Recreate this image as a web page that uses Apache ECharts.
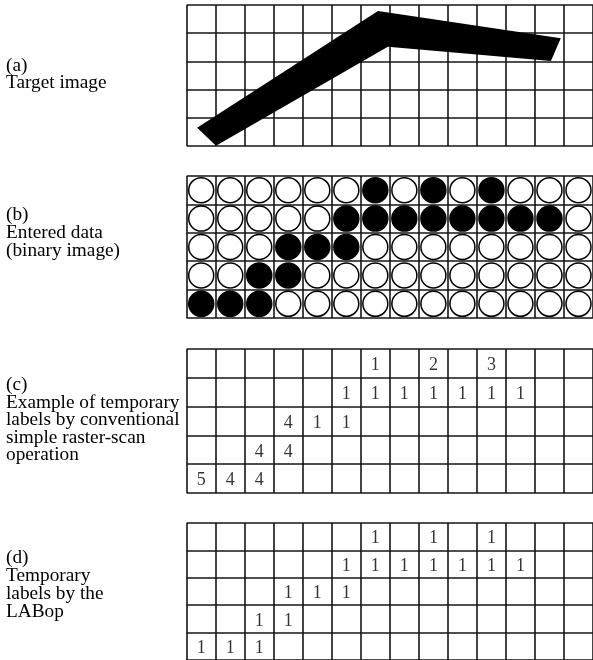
<!DOCTYPE html>
<html>
<head>
<meta charset="utf-8">
<script src="https://cdn.jsdelivr.net/npm/echarts@6/dist/echarts.min.js"></script>
<style>
html,body{margin:0;padding:0;background:#fff;}
#chart{width:593px;height:660px;}
</style>
</head>
<body>
<div id="chart"></div>
<script>
// ---- data ----
const columnCount = 14;
const rowCount = 5;

// (a) target image outline, in cell units (column, row from top)
const targetShape = [
  [0.36, 4.35], [1.01, 4.99], [6.93, 1.48],
  [12.55, 1.99], [12.89, 1.18], [6.59, 0.21]
];

// (b) binary image, rows from top
const binaryRow0 = [0,0,0,0,0,0,1,0,1,0,1,0,0,0];
const binaryRow1 = [0,0,0,0,0,1,1,1,1,1,1,1,1,0];
const binaryRow2 = [0,0,0,1,1,1,0,0,0,0,0,0,0,0];
const binaryRow3 = [0,0,1,1,0,0,0,0,0,0,0,0,0,0];
const binaryRow4 = [1,1,1,0,0,0,0,0,0,0,0,0,0,0];
const binaryImage = [binaryRow0, binaryRow1, binaryRow2, binaryRow3, binaryRow4];

// (c) temporary labels, conventional raster scan
const convRow0 = ['','','','','','','1','','2','','3','','',''];
const convRow1 = ['','','','','','1','1','1','1','1','1','1','',''];
const convRow2 = ['','','','4','1','1','','','','','','','',''];
const convRow3 = ['','','4','4','','','','','','','','','',''];
const convRow4 = ['5','4','4','','','','','','','','','','',''];
const conventionalLabels = [convRow0, convRow1, convRow2, convRow3, convRow4];

// (d) temporary labels by LABop
const labRow0 = ['','','','','','','1','','1','','1','','',''];
const labRow1 = ['','','','','','1','1','1','1','1','1','1','',''];
const labRow2 = ['','','','1','1','1','','','','','','','',''];
const labRow3 = ['','','1','1','','','','','','','','','',''];
const labRow4 = ['1','1','1','','','','','','','','','','',''];
const labopLabels = [labRow0, labRow1, labRow2, labRow3, labRow4];

// panel captions
const captionA = ['(a)', 'Target image'];
const captionB = ['(b)', 'Entered data', '(binary image)'];
const captionC = ['(c)', 'Example of temporary', 'labels by conventional', 'simple raster-scan', 'operation'];
const captionD = ['(d)', 'Temporary', 'labels by the', 'LABop'];

// ---- layout ----
const FONT = '"Liberation Serif", "Times New Roman", serif';
const cellW = 29.6;
const gridLeft = 186.7;
const gridTops = [5, 176, 349, 523];
const gridHeights = [141, 142, 144, 142.5];
const lineStyle = {color: '#151515', width: 1.6};

const grids = gridTops.map((t, i) => ({
  left: gridLeft, top: t, width: cellW * columnCount, height: gridHeights[i]
}));
const xAxes = grids.map((g, i) => ({
  type: 'value', gridIndex: i, min: 0, max: columnCount, interval: 1,
  axisLine: {show: false}, axisTick: {show: false}, axisLabel: {show: false},
  splitLine: {show: true, lineStyle: lineStyle}
}));
const yAxes = grids.map((g, i) => ({
  type: 'value', gridIndex: i, min: 0, max: rowCount, interval: 1, inverse: true,
  axisLine: {show: false}, axisTick: {show: false}, axisLabel: {show: false},
  splitLine: {show: true, lineStyle: lineStyle}
}));

function cellData(matrix) {
  const out = [];
  matrix.forEach((row, r) => row.forEach((v, c) => {
    if (v !== '') out.push([c + 0.5, r + 0.5, v]);
  }));
  return out;
}

function labelSeries(matrix, idx) {
  return {
    type: 'scatter', xAxisIndex: idx, yAxisIndex: idx,
    data: cellData(matrix), symbol: 'circle', symbolSize: 1,
    itemStyle: {color: 'rgba(0,0,0,0)'}, silent: true,
    label: {
      show: true, position: 'inside', offset: [0, 2],
      formatter: p => p.value[2],
      color: '#000', fontSize: 18, fontFamily: FONT
    },
    z: 5
  };
}

const series = [
  {
    type: 'custom', xAxisIndex: 0, yAxisIndex: 0, data: [0],
    renderItem: function (params, api) {
      const pts = targetShape.map(p => api.coord(p));
      return {type: 'polygon', shape: {points: pts}, style: {fill: '#000'}};
    },
    z: 5, silent: true
  },
  {
    type: 'scatter', xAxisIndex: 1, yAxisIndex: 1,
    data: cellData(binaryImage), symbol: 'circle', symbolSize: 25,
    itemStyle: {
      color: p => p.value[2] ? '#000' : '#fff',
      borderColor: '#000', borderWidth: 1.5, opacity: 1
    },
    silent: true, z: 5
  },
  labelSeries(conventionalLabels, 2),
  labelSeries(labopLabels, 3)
];

const captionLayout = [
  {lines: captionA, y: [66, 83]},
  {lines: captionB, y: [215, 233, 251]},
  {lines: captionC, y: [385, 402.5, 420, 437.5, 455]},
  {lines: captionD, y: [558, 576, 594, 612]}
];
const graphic = [];
captionLayout.forEach(block => block.lines.forEach((t, i) => {
  graphic.push({
    type: 'text', x: 6, y: block.y[i],
    style: {text: t, font: '19.3px ' + FONT, fill: '#000', verticalAlign: 'middle', align: 'left'}
  });
}));

const chart = echarts.init(document.getElementById('chart'), null, {renderer: 'canvas'});
chart.setOption({
  backgroundColor: '#fff',
  animation: false,
  grid: grids, xAxis: xAxes, yAxis: yAxes,
  series: series,
  graphic: graphic
});
</script>
</body>
</html>
